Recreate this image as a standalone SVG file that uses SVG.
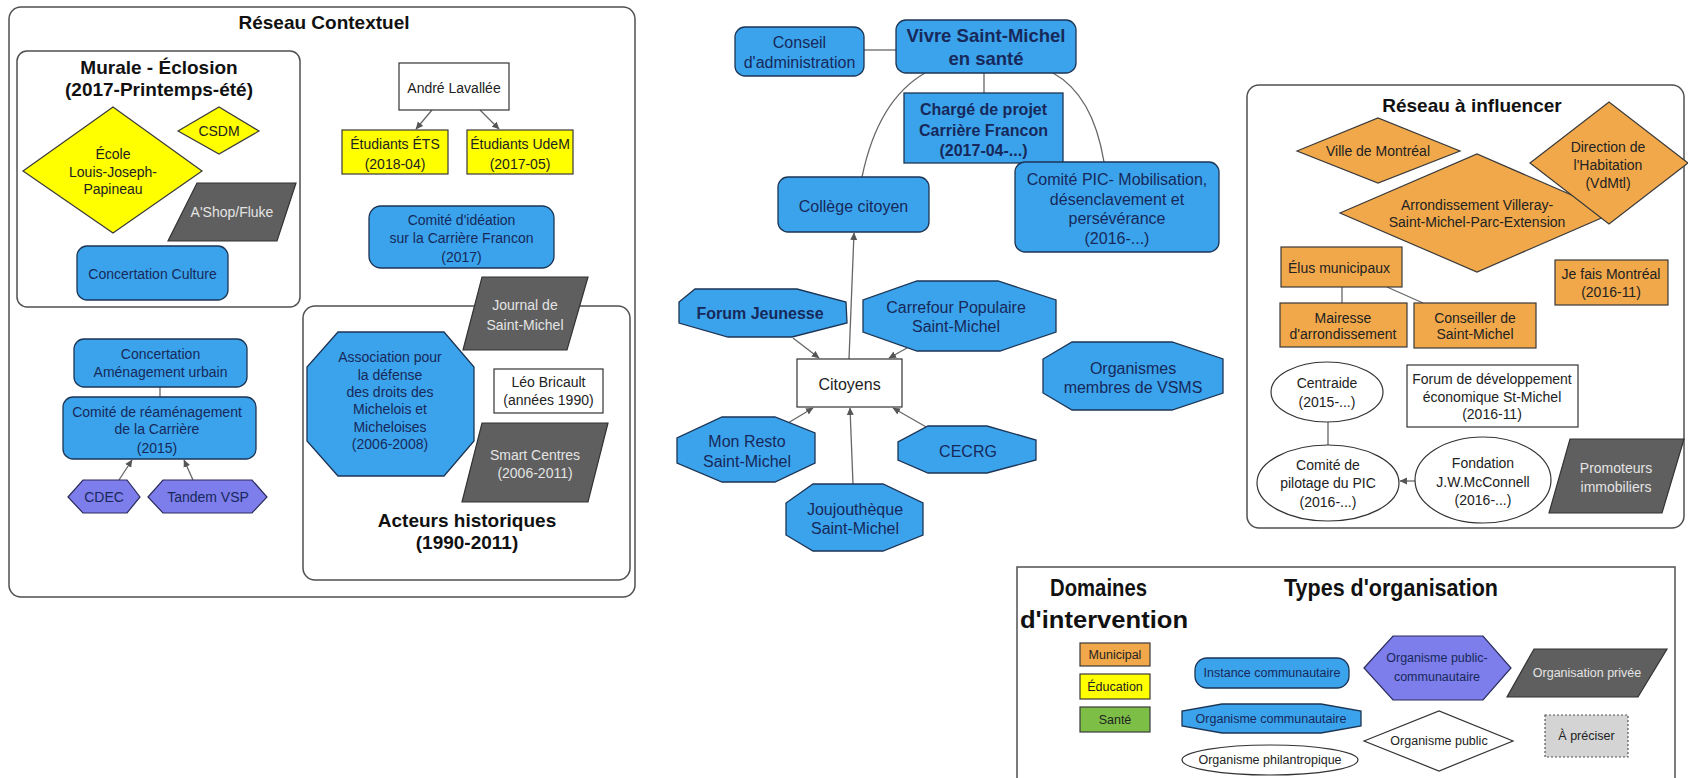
<svg xmlns="http://www.w3.org/2000/svg" width="1688" height="778" viewBox="0 0 1688 778">
<defs>
<style>
text { font-family: "Liberation Sans", Arial, sans-serif; font-size: 14px; text-anchor: middle; fill: #222; }
.b { font-weight: bold; }
.title { font-weight: bold; font-size: 19px; fill: #111; }
.leg { font-weight: bold; font-size: 24px; fill: #111; text-anchor: start; }
.tn { fill: #17295a; }
.tw { fill: #e4e4e4; }
.f16 { font-size: 16px; }
.f12 { font-size: 12.5px; }
.cont { fill: #fff; stroke: #505050; stroke-width: 1.5; }
.blue { fill: #3aa3ec; stroke: #1d3555; stroke-width: 1.3; }
.yellow { fill: #ffff00; stroke: #3a3a3a; stroke-width: 1.2; }
.gray { fill: #5f5f5f; stroke: #333; stroke-width: 1.2; }
.purple { fill: #7d7deb; stroke: #2c2c5c; stroke-width: 1.2; }
.orange { fill: #f1a84a; stroke: #3a3a3a; stroke-width: 1.2; }
.green { fill: #7dbf46; stroke: #3a3a3a; stroke-width: 1.2; }
.white { fill: #fff; stroke: #333; stroke-width: 1.2; }
.dotted { fill: #d4d4d4; stroke: #555; stroke-width: 1.2; stroke-dasharray: 2 2; }
.edge { fill: none; stroke: #666; stroke-width: 1.3; }
.arr { marker-end: url(#ah); }
</style>
<marker id="ah" markerWidth="8" markerHeight="8" refX="7" refY="4" orient="auto" markerUnits="userSpaceOnUse">
<path d="M0,0.5 L7.5,4 L0,7.5 z" fill="#555"/>
</marker>
</defs>
<rect width="1688" height="778" fill="#fff"/>

<!-- Containers -->
<g id="reseau-contextuel">
<rect class="cont" x="9" y="7" width="626" height="590" rx="12"/>
<text class="title" x="324" y="29">Réseau Contextuel</text>
</g>
<g id="murale">
<rect class="cont" x="17" y="51" width="283" height="256" rx="10"/>
<text class="title" x="159" y="74">Murale - Éclosion</text>
<text class="title" x="159" y="96">(2017-Printemps-été)</text>
</g>
<g id="acteurs">
<rect class="cont" x="303" y="306" width="327" height="274" rx="12"/>
<text class="title" x="467" y="527">Acteurs historiques</text>
<text class="title" x="467" y="549">(1990-2011)</text>
</g>
<g id="reseau-influencer">
<rect class="cont" x="1247" y="85" width="437" height="443" rx="12"/>
<text class="title" x="1472" y="112">Réseau à influencer</text>
</g>

<!-- Connectors -->
<g id="connectors">
<line class="edge arr" x1="432" y1="110" x2="416" y2="129"/>
<line class="edge arr" x1="480" y1="110" x2="499" y2="129"/>
<line class="edge" x1="160" y1="387" x2="160" y2="397"/>
<line class="edge arr" x1="119" y1="480" x2="132" y2="460"/>
<line class="edge arr" x1="193" y1="480" x2="184" y2="460"/>
<line class="edge" x1="864" y1="50" x2="896" y2="50"/>
<line class="edge" x1="984" y1="73" x2="984" y2="93"/>
<path class="edge" d="M925,73 Q878,100 862,177"/>
<path class="edge" d="M1053,73 Q1093,95 1104,162"/>
<line class="edge arr" x1="849" y1="359" x2="854" y2="233"/>
<line class="edge arr" x1="793" y1="338" x2="819" y2="358"/>
<line class="edge arr" x1="907" y1="348" x2="889" y2="358"/>
<line class="edge arr" x1="788" y1="423" x2="813" y2="408"/>
<line class="edge arr" x1="853" y1="484" x2="850" y2="408"/>
<line class="edge arr" x1="928" y1="428" x2="893" y2="408"/>
<line class="edge" x1="1342" y1="287" x2="1342" y2="303"/>
<line class="edge" x1="1387" y1="287" x2="1423" y2="303"/>
<line class="edge" x1="1328" y1="422" x2="1328" y2="445"/>
<line class="edge arr" x1="1415" y1="481" x2="1400" y2="481"/>
</g>

<!-- Murale nodes -->
<g id="ecole">
<polygon class="yellow" points="23,171 113,107 202,171 113,233"/>
<text x="113" y="159">École</text>
<text x="113" y="177">Louis-Joseph-</text>
<text x="113" y="194">Papineau</text>
</g>
<g id="csdm">
<polygon class="yellow" points="178,131 219,107 259,131 219,154"/>
<text x="219" y="136">CSDM</text>
</g>
<g id="ashop">
<polygon class="gray" points="197,183 296,183 277,241 168,241"/>
<text class="tw" x="232" y="217">A'Shop/Fluke</text>
</g>
<g id="concertation-culture">
<rect class="blue" x="77" y="246" width="151" height="54" rx="10"/>
<text class="tn" x="152.5" y="279">Concertation Culture</text>
</g>

<!-- Réseau contextuel nodes -->
<g id="andre-lavallee">
<rect class="white" x="399" y="63" width="110" height="47"/>
<text x="454" y="93">André Lavallée</text>
</g>
<g id="etudiants-ets">
<rect class="yellow" x="342" y="130" width="106" height="44"/>
<text x="395" y="149">Étudiants ÉTS</text>
<text x="395" y="169">(2018-04)</text>
</g>
<g id="etudiants-udem">
<rect class="yellow" x="467" y="130" width="106" height="44"/>
<text x="520" y="149">Étudiants UdeM</text>
<text x="520" y="169">(2017-05)</text>
</g>
<g id="comite-ideation">
<rect class="blue" x="369" y="206" width="185" height="62" rx="12"/>
<text class="tn" x="461.5" y="225">Comité d'idéation</text>
<text class="tn" x="461.5" y="243">sur la Carrière Francon</text>
<text class="tn" x="461.5" y="262">(2017)</text>
</g>
<g id="concertation-amenagement">
<rect class="blue" x="74" y="339" width="173" height="48" rx="10"/>
<text class="tn" x="160.5" y="359">Concertation</text>
<text class="tn" x="160.5" y="377">Aménagement urbain</text>
</g>
<g id="comite-reamenagement">
<rect class="blue" x="63" y="397" width="193" height="62" rx="10"/>
<text class="tn" x="157" y="417">Comité de réaménagement</text>
<text class="tn" x="157" y="434">de la Carrière</text>
<text class="tn" x="157" y="453">(2015)</text>
</g>
<g id="cdec">
<polygon class="purple" points="68,497 83,480 127,480 140,497 127,513 83,513"/>
<text class="tn" x="104" y="502">CDEC</text>
</g>
<g id="tandem">
<polygon class="purple" points="148,497 163,480 252,480 267,497 252,513 163,513"/>
<text class="tn" x="208" y="502">Tandem VSP</text>
</g>

<!-- Acteurs historiques nodes -->
<g id="journal">
<polygon class="gray" points="482,277 588,277 567,350 463,350"/>
<text class="tw" x="525" y="310">Journal de</text>
<text class="tw" x="525" y="330">Saint-Michel</text>
</g>
<g id="association">
<polygon class="blue" points="338,332 444,332 474,367 474,441 444,476 338,476 307,441 307,367"/>
<text class="tn" x="390" y="362">Association pour</text>
<text class="tn" x="390" y="380">la défense</text>
<text class="tn" x="390" y="397">des droits des</text>
<text class="tn" x="390" y="414">Michelois et</text>
<text class="tn" x="390" y="432">Micheloises</text>
<text class="tn" x="390" y="449">(2006-2008)</text>
</g>
<g id="leo-bricault">
<rect class="white" x="494" y="369" width="109" height="44"/>
<text x="548.5" y="387">Léo Bricault</text>
<text x="548.5" y="405">(années 1990)</text>
</g>
<g id="smart-centres">
<polygon class="gray" points="482,423 608,423 588,502 462,502"/>
<text class="tw" x="535" y="460">Smart Centres</text>
<text class="tw" x="535" y="478">(2006-2011)</text>
</g>

<!-- Centre -->
<g id="conseil">
<rect class="blue" x="735" y="27" width="129" height="49" rx="10"/>
<text class="tn f16" x="799.5" y="48">Conseil</text>
<text class="tn f16" x="799.5" y="68">d'administration</text>
</g>
<g id="vsms">
<rect class="blue" x="896" y="20" width="180" height="53" rx="10"/>
<text class="tn b" style="font-size:18.5px" x="986" y="41.5">Vivre Saint-Michel</text>
<text class="tn b" style="font-size:18.5px" x="986" y="64.5">en santé</text>
</g>
<g id="charge-projet">
<rect class="blue" x="904" y="93" width="159" height="70"/>
<text class="tn b f16" x="983.5" y="115">Chargé de projet</text>
<text class="tn b f16" x="983.5" y="136">Carrière Francon</text>
<text class="tn b f16" x="983.5" y="156">(2017-04-...)</text>
</g>
<g id="college">
<rect class="blue" x="778" y="177" width="151" height="55" rx="10"/>
<text class="tn f16" x="853.5" y="211.5">Collège citoyen</text>
</g>
<g id="comite-pic">
<rect class="blue" x="1015" y="162" width="204" height="90" rx="10"/>
<text class="tn f16" x="1117" y="185">Comité PIC- Mobilisation,</text>
<text class="tn f16" x="1117" y="204.5">désenclavement et</text>
<text class="tn f16" x="1117" y="224">persévérance</text>
<text class="tn f16" x="1117" y="244">(2016-...)</text>
</g>
<g id="forum-jeunesse">
<polygon class="blue" points="695,289 797,289 846,302 847,323 792,337 728,337 679,323 679,302"/>
<text class="tn b f16" x="760" y="319">Forum Jeunesse</text>
</g>
<g id="carrefour">
<polygon class="blue" points="917,281 998,281 1056,300 1056,332 1000,351 917,351 863,332 863,300"/>
<text class="tn f16" x="956" y="313">Carrefour Populaire</text>
<text class="tn f16" x="956" y="332">Saint-Michel</text>
</g>
<g id="citoyens">
<rect class="white" x="797" y="359" width="105" height="48"/>
<text class="f16" x="849.5" y="389.5">Citoyens</text>
</g>
<g id="mon-resto">
<polygon class="blue" points="722,417 775,417 815,433 815,463 775,482 722,482 677,463 677,438"/>
<text class="tn f16" x="747" y="447">Mon Resto</text>
<text class="tn f16" x="747" y="467">Saint-Michel</text>
</g>
<g id="cecrg">
<polygon class="blue" points="928,426 987,426 1036,440 1036,460 987,473 928,473 898,460 898,442"/>
<text class="tn f16" x="968" y="457">CECRG</text>
</g>
<g id="joujoutheque">
<polygon class="blue" points="813,484 883,484 923,503 923,535 883,551 813,551 786,535 786,503"/>
<text class="tn f16" x="855" y="515">Joujouthèque</text>
<text class="tn f16" x="855" y="534">Saint-Michel</text>
</g>
<g id="organismes-membres">
<polygon class="blue" points="1072,342 1172,342 1223,359 1223,393 1172,410 1072,410 1043,393 1043,359"/>
<text class="tn f16" x="1133" y="373.5">Organismes</text>
<text class="tn f16" x="1133" y="392.5">membres de VSMS</text>
</g>

<!-- Réseau à influencer nodes -->
<g id="ville-montreal">
<polygon class="orange" points="1297,151 1378,118 1460,151 1378,183"/>
<text x="1378" y="156">Ville de Montréal</text>
</g>
<g id="arrondissement">
<polygon class="orange" points="1340,213 1477,154 1613,213 1477,272"/>
<text x="1477" y="210">Arrondissement Villeray-</text>
<text x="1477" y="227">Saint-Michel-Parc-Extension</text>
</g>
<g id="direction-habitation">
<polygon class="orange" points="1530,163 1609,102 1688,163 1609,224"/>
<text x="1608" y="152">Direction de</text>
<text x="1608" y="170">l'Habitation</text>
<text x="1608" y="188">(VdMtl)</text>
</g>
<g id="elus">
<rect class="orange" x="1281" y="247" width="121" height="40"/>
<text x="1339" y="273">Élus municipaux</text>
</g>
<g id="je-fais-montreal">
<rect class="orange" x="1555" y="260" width="113" height="45"/>
<text x="1611" y="279">Je fais Montréal</text>
<text x="1611" y="297">(2016-11)</text>
</g>
<g id="mairesse">
<rect class="orange" x="1280" y="303" width="127" height="44"/>
<text x="1343" y="323">Mairesse</text>
<text x="1343" y="339">d'arrondissement</text>
</g>
<g id="conseiller">
<rect class="orange" x="1414" y="303" width="122" height="45"/>
<text x="1475" y="323">Conseiller de</text>
<text x="1475" y="339">Saint-Michel</text>
</g>
<g id="centraide">
<ellipse class="white" cx="1327" cy="392" rx="56" ry="30"/>
<text x="1327" y="388">Centraide</text>
<text x="1327" y="407">(2015-...)</text>
</g>
<g id="forum-dev">
<rect class="white" x="1407" y="365" width="171" height="62"/>
<text x="1492" y="384">Forum de développement</text>
<text x="1492" y="402">économique St-Michel</text>
<text x="1492" y="419">(2016-11)</text>
</g>
<g id="comite-pilotage">
<ellipse class="white" cx="1328" cy="483" rx="71" ry="38"/>
<text x="1328" y="470">Comité de</text>
<text x="1328" y="488">pilotage du PIC</text>
<text x="1328" y="507">(2016-...)</text>
</g>
<g id="fondation">
<ellipse class="white" cx="1483" cy="480" rx="68" ry="43"/>
<text x="1483" y="468">Fondation</text>
<text x="1483" y="487">J.W.McConnell</text>
<text x="1483" y="505">(2016-...)</text>
</g>
<g id="promoteurs">
<polygon class="gray" points="1570,439 1684,439 1662,513 1549,513"/>
<text class="tw" x="1616" y="473">Promoteurs</text>
<text class="tw" x="1616" y="492">immobiliers</text>
</g>

<!-- Legend -->
<g id="legende">
<rect class="cont" x="1017" y="567" width="658" height="230"/>
<text class="leg" x="1050" y="596" textLength="97" lengthAdjust="spacingAndGlyphs">Domaines</text>
<text class="leg" x="1020" y="628" textLength="168" lengthAdjust="spacingAndGlyphs">d'intervention</text>
<text class="leg" x="1284" y="596" textLength="214" lengthAdjust="spacingAndGlyphs">Types d'organisation</text>
<g id="leg-municipal">
<rect class="orange" x="1080" y="643" width="70" height="23"/>
<text class="f12" x="1115" y="659">Municipal</text>
</g>
<g id="leg-education">
<rect class="yellow" x="1080" y="674" width="70" height="25"/>
<text class="f12" x="1115" y="691">Éducation</text>
</g>
<g id="leg-sante">
<rect class="green" x="1080" y="707" width="70" height="25"/>
<text class="f12" x="1115" y="724">Santé</text>
</g>
<g id="leg-instance">
<rect class="blue" x="1195" y="658" width="154" height="30" rx="12"/>
<text class="tn f12" x="1272" y="677">Instance communautaire</text>
</g>
<g id="leg-org-comm">
<polygon class="blue" points="1222,704 1321,704 1361,711 1361,726 1321,733 1222,733 1182,726 1182,711"/>
<text class="tn f12" x="1271" y="723">Organisme communautaire</text>
</g>
<g id="leg-philantropique">
<ellipse class="white" cx="1270" cy="760" rx="88" ry="15"/>
<text class="f12" x="1270" y="764">Organisme philantropique</text>
</g>
<g id="leg-public-comm">
<polygon class="purple" points="1364,668 1393,636 1483,636 1511,668 1483,700 1393,700"/>
<text class="tn f12" x="1437" y="662">Organisme public-</text>
<text class="tn f12" x="1437" y="681">communautaire</text>
</g>
<g id="leg-privee">
<polygon class="gray" points="1534,649 1667,649 1638,697 1507,697"/>
<text class="tw f12" x="1587" y="677">Organisation privée</text>
</g>
<g id="leg-public">
<polygon class="white" points="1364,741 1439,711 1513,741 1439,771"/>
<text class="f12" x="1439" y="745">Organisme public</text>
</g>
<g id="leg-preciser">
<rect class="dotted" x="1545" y="715" width="83" height="42"/>
<text class="f12" x="1586.5" y="740">À préciser</text>
</g>
</g>
</svg>
